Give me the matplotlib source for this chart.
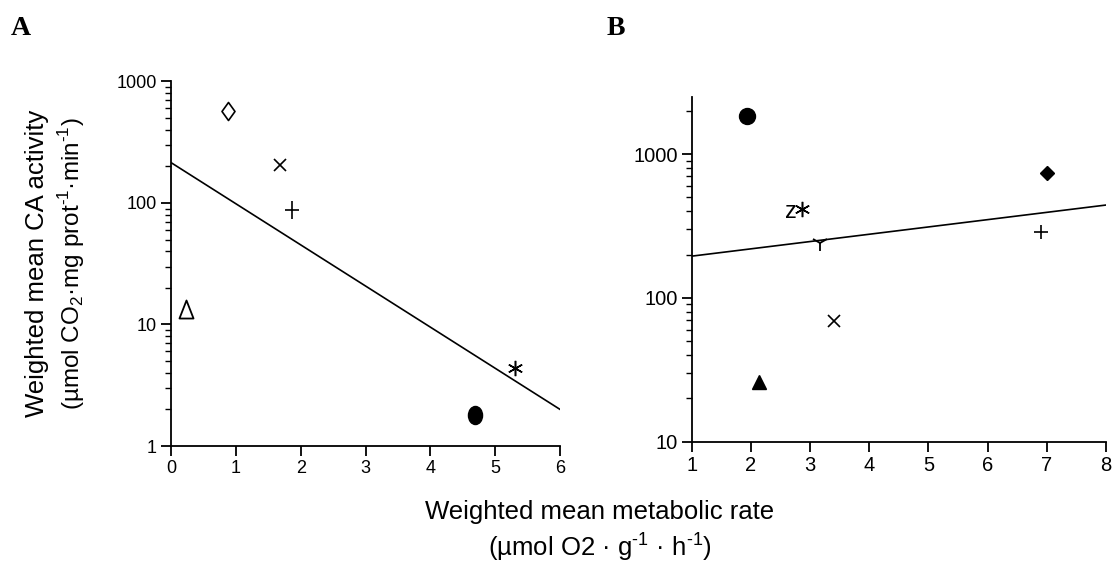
import numpy as np
import matplotlib
matplotlib.use("Agg")
import matplotlib.pyplot as plt
from matplotlib.path import Path

plt.rcParams['font.family'] = ['Liberation Sans', 'DejaVu Sans']
plt.rcParams['mathtext.fontset'] = 'custom'
plt.rcParams['mathtext.rm'] = 'Liberation Sans'

# Panel A data (x = metabolic rate, y = CA activity)
a_x = [0.88, 1.68, 1.86, 0.23, 5.31, 4.69]
a_y = [575, 204, 88, 13.3, 4.4, 1.8]
a_markers = ['D_open', 'x', '+tall', '^_open', 'ast', 'ell']
a_fit_x = [0, 6]
a_fit_y = [215, 2.0]

# Panel B data
b_x = [1.93, 7.0, 2.87, 3.17, 6.9, 3.41, 2.14]
b_y = [1840, 735, 412, 239, 286, 69.5, 26.2]
b_markers = ['o', 'D', 'ast', 'Y', '+', 'x', '^']
b_fit_x = [1, 8]
b_fit_y = [195, 442]

circ = Path.unit_circle()
ellipse = Path(circ.vertices * [0.78, 1.0], circ.codes)
tall_diamond = Path([(0, 1), (0.72, 0), (0, -1), (-0.72, 0), (0, 1)],
                    [Path.MOVETO, Path.LINETO, Path.LINETO, Path.LINETO, Path.CLOSEPOLY])
tall_triangle = Path([(0, 1), (0.78, -1), (-0.78, -1), (0, 1)],
                     [Path.MOVETO, Path.LINETO, Path.LINETO, Path.CLOSEPOLY])
tall_plus = Path([(-0.76, 0), (0.76, 0), (0, -1), (0, 1)],
                 [Path.MOVETO, Path.LINETO, Path.MOVETO, Path.LINETO])

styles = {
    'D_open': dict(marker=tall_diamond, ms=13, mfc='white', mec='black', mew=1.2),
    'D': dict(marker='D', ms=7, mfc='black', mec='black'),
    'x': dict(marker='x', ms=8.5, mec='black', mew=1.2),
    '+': dict(marker='+', ms=10.5, mec='black', mew=1.2),
    '+tall': dict(marker=tall_plus, ms=12.5, mfc='none', mec='black', mew=1.2),
    '^_open': dict(marker=tall_triangle, ms=13, mfc='white', mec='black', mew=1.3),
    '^': dict(marker='^', ms=9.5, mfc='black', mec='black'),
    'ast': dict(marker=(6, 2, 0), ms=11, mec='black', mew=1.1),
    'ell': dict(marker=ellipse, ms=13, mfc='black', mec='black'),
    'o': dict(marker='o', ms=11.5, mfc='black', mec='black'),
    'Y': dict(marker='1', ms=12, mec='black', mew=1.3),
}

fig = plt.figure(figsize=(11.17, 5.67), dpi=100)
axA = fig.add_axes([0.1531, 0.2134, 0.3483, 0.6429])
axB = fig.add_axes([0.6193, 0.2210, 0.3709, 0.6074])

def style_axis(ax, labelsize):
    for s in ['top', 'right']:
        ax.spines[s].set_visible(False)
    for s in ['left', 'bottom']:
        ax.spines[s].set_linewidth(1.3)
    ax.set_yscale('log')
    ax.tick_params(which='major', direction='out', length=7, width=1.3,
                   labelsize=labelsize, pad=3)
    ax.tick_params(which='minor', direction='out', length=4, width=1.0)
    ax.yaxis.set_major_formatter(matplotlib.ticker.FuncFormatter(lambda v, p: f'{v:g}'))
    ax.yaxis.set_minor_formatter(matplotlib.ticker.NullFormatter())

for ax, xs, ys, ms, fx, fy, ls in [(axA, a_x, a_y, a_markers, a_fit_x, a_fit_y, 13),
                                   (axB, b_x, b_y, b_markers, b_fit_x, b_fit_y, 14.5)]:
    style_axis(ax, ls)
    ax.plot(fx, fy, color='black', lw=1.2, zorder=2)
    for x, y, m in zip(xs, ys, ms):
        ax.plot([x], [y], ls='none', zorder=3, **styles[m])

axA.set_xlim(0, 6)
axA.set_ylim(1, 1000)
axA.set_xticks(range(0, 7))
axA.set_yticks([1, 10, 100, 1000])

axB.set_xlim(1, 8)
axB.set_ylim(10, 2480)
axB.set_xticks(range(1, 9))
axB.set_yticks([10, 100, 1000])
axB.text(2.78, 395, 'z', fontsize=17, ha='right', va='center')

fig.text(0.033, 0.535, 'Weighted mean CA activity', rotation=90, fontsize=18.5,
         ha='center', va='center')
fig.text(0.064, 0.535, r'(µmol CO$_2$·mg prot$^{\text{-}1}$·min$^{\text{-}1}$)', rotation=90,
         fontsize=17.5, ha='center', va='center')

fig.text(0.537, 0.097, 'Weighted mean metabolic rate', fontsize=18.5, ha='center', va='center')
fig.text(0.537, 0.036, r'(µmol O2 · g$^{\text{-}1}$ · h$^{\text{-}1}$)', fontsize=18.5,
         ha='center', va='center')

fig.text(0.010, 0.95, 'A', fontsize=20, fontweight='bold', family='Liberation Serif',
         ha='left', va='center')
fig.text(0.543, 0.95, 'B', fontsize=20, fontweight='bold', family='Liberation Serif',
         ha='left', va='center')

fig.savefig('out.png', dpi=100)
